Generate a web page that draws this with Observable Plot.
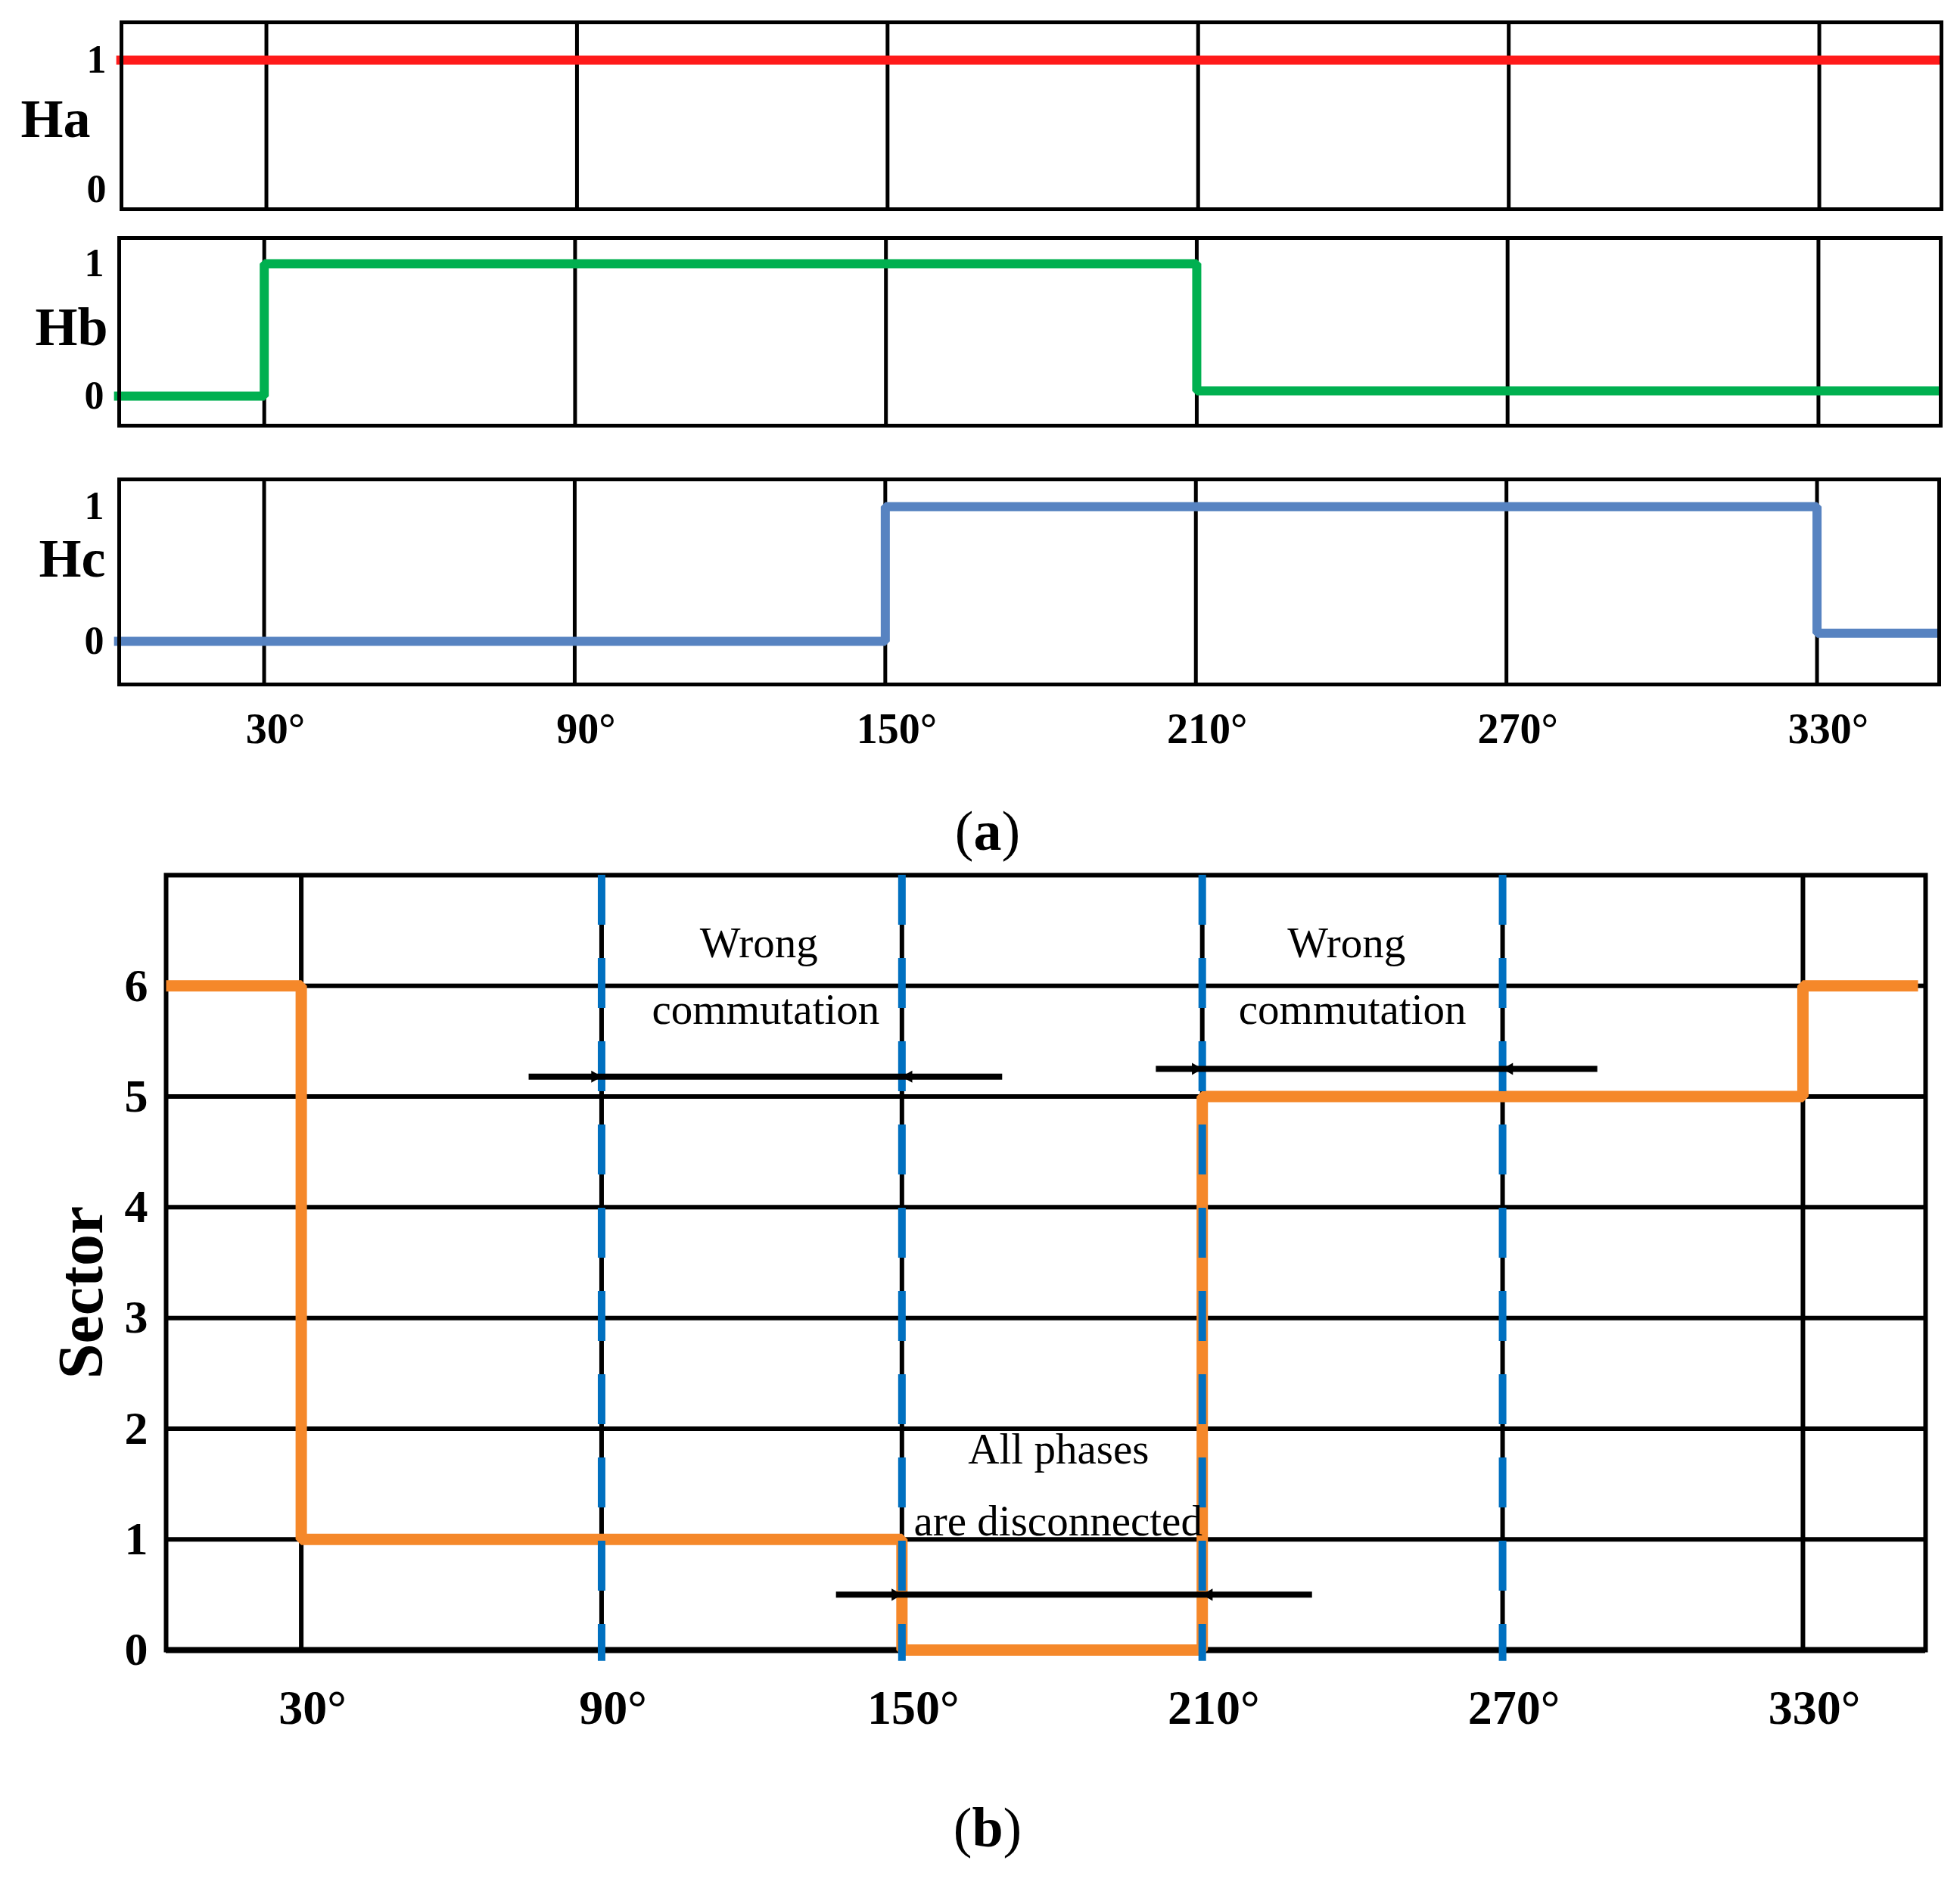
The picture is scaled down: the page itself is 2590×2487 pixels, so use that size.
<!DOCTYPE html>
<html>
<head>
<meta charset="utf-8">
<script src="https://cdn.jsdelivr.net/npm/d3@7"></script>
<script src="https://cdn.jsdelivr.net/npm/@observablehq/plot@0.6"></script>
<style>
  html, body { margin: 0; padding: 0; background: #fff; }
  #fig { position: relative; width: 2590px; height: 2487px; font-family: "Liberation Serif", serif; overflow: hidden; }
  .panel { position: absolute; left: 0; }
  .panel svg { overflow: visible; }
  .cap { position: absolute; transform: translate(-50%, -50%); font-size: 74px; line-height: 1; color: #000; white-space: nowrap; }
</style>
</head>
<body>
<div id="fig"></div>
<script>
// ---------- data ----------
const angleTicks = [30, 90, 150, 210, 270, 330];          // degrees (grid + tick labels)
const signalNames = ["Ha", "Hb", "Hc"];
const haAngle = [1, 353.5];
const haValue = [1, 1];
const hbAngle = [1, 30, 210, 353.5];
const hbValue = [0, 1, 0.04, 0.04];
const hcAngle = [1, 150, 330, 353.5];
const hcValue = [0, 1, 0.06, 0.06];
const signalTicks = [0, 1];

const sectorTicks = [0, 1, 2, 3, 4, 5, 6];
const sectorAngle = [3, 30, 150, 210, 330, 353];
const sectorValue = [6, 1, 0, 5, 6, 6];

const boundaryAngles = [90, 150, 210, 270];                // dashed boundaries
const arrowFrom = [90, 210, 150];
const arrowTo = [150, 270, 210];
const arrowStart = [75.5, 200.8, 136.9];
const arrowEnd = [170.1, 289, 232];
const arrowLevel = [5.18, 5.25, 0.5];

const noteText = ["Wrong", "commutation", "Wrong", "commutation", "All phases", "are disconnected"];
const noteAngle = [121.4, 122.8, 238.8, 240, 181.3, 181.2];
const noteLevel = [6.38, 5.78, 6.38, 5.78, 1.81, 1.16];

const sectorTitle = "Sector";

// ---------- helpers ----------
const FONT = "Liberation Serif, serif";
const fig = document.getElementById("fig");
function place(svg, top) {
  const d = document.createElement("div");
  d.className = "panel";
  d.style.top = top + "px";
  d.appendChild(svg);
  fig.appendChild(d);
}
const zip = (xs, ys) => xs.map((x, i) => ({x, y: ys[i]}));
const intFmt = d => `${d}`;
const degFmt = d => `${d}°`;

function signalPanel(cfg) {
  const marks = [
    Plot.ruleX(angleTicks, {stroke: "black", strokeWidth: 5}),
    Plot.line(zip(cfg.angle, cfg.value), {x: "x", y: "y", curve: "step-after", stroke: cfg.color, strokeWidth: 12, strokeLinejoin: "miter", strokeLinecap: "butt"}),
    Plot.frame({stroke: "black", strokeWidth: 5}),
    Plot.axisY({ticks: signalTicks, tickFormat: intFmt, tickSize: 0, tickPadding: 20, fontSize: 52, fontWeight: "bold", label: null}),
    Plot.text([cfg.name], {text: d => d, frameAnchor: "left", y: cfg.labelY, dx: cfg.labelDx, textAnchor: "end", fontSize: 72, fontWeight: "bold"})
  ];
  if (cfg.showX) {
    marks.push(Plot.axisX({ticks: angleTicks, tickFormat: degFmt, tickSize: 0, tickPadding: 38, fontSize: 56, fontWeight: "bold", dx: 15, label: null}));
  }
  return Plot.plot({
    width: 2590,
    height: cfg.height,
    marginTop: cfg.marginTop,
    marginBottom: cfg.marginBottom,
    marginLeft: cfg.marginLeft,
    marginRight: cfg.marginRight,
    style: {fontFamily: FONT, background: "transparent", overflow: "visible", color: "black"},
    x: cfg.showX ? {domain: [2, 353.6]} : {domain: [2, 353.6], axis: null},
    y: {domain: cfg.yDomain},
    marks
  });
}

// ---------- panel (a) ----------
place(signalPanel({name: signalNames[0], angle: haAngle, value: haValue, color: "#FF1A1A",
  height: 290, marginTop: 29, marginBottom: 14, marginLeft: 160, marginRight: 25,
  yDomain: [-0.152, 1.292], labelY: 0.54, labelDx: -41}), 0);
place(signalPanel({name: signalNames[1], angle: hbAngle, value: hbValue, color: "#00B050",
  height: 290, marginTop: 24, marginBottom: 18, marginLeft: 157, marginRight: 26,
  yDomain: [-0.223, 1.194], labelY: 0.52, labelDx: -15}), 290);
place(signalPanel({name: signalNames[2], angle: hcAngle, value: hcValue, color: "#5783C1",
  height: 424, marginTop: 53, marginBottom: 100, marginLeft: 157, marginRight: 28,
  yDomain: [-0.32, 1.202], labelY: 0.61, labelDx: -18, showX: true}), 580);

// ---------- panel (b) ----------
const arrows = arrowFrom.map((f, i) => ({from: f, to: arrowTo[i], start: arrowStart[i], end: arrowEnd[i], level: arrowLevel[i]}));
const notes = noteText.map((t, i) => ({t, x: noteAngle[i], y: noteLevel[i]}));

const sectorPlot = Plot.plot({
  width: 2590,
  height: 1190,
  marginTop: 46,
  marginBottom: 120,
  marginLeft: 219,
  marginRight: 46,
  style: {fontFamily: FONT, background: "transparent", overflow: "visible", color: "black"},
  x: {domain: [3, 354.5]},
  y: {domain: [0, 7]},
  marks: [
    Plot.ruleY(sectorTicks.filter(v => v > 0), {stroke: "black", strokeWidth: 6}),
    Plot.ruleX(angleTicks, {stroke: "black", strokeWidth: 6}),
    Plot.frame({stroke: "black", strokeWidth: 6}),
    Plot.ruleY([0], {stroke: "black", strokeWidth: 8}),
    Plot.line(zip(sectorAngle, sectorValue), {x: "x", y: "y", curve: "step-after", stroke: "#F5882A", strokeWidth: 15, strokeLinejoin: "miter", strokeLinecap: "butt"}),
    Plot.ruleX(boundaryAngles, {y1: 7, y2: -0.1, stroke: "#0070C0", strokeWidth: 10, strokeDasharray: "66 44"}),
    Plot.ruleY(arrows, {y: "level", x1: "start", x2: "end", stroke: "black", strokeWidth: 8}),
    Plot.dot(arrows, {x: "from", y: "level", symbol: "triangle", r: 6, fill: "black", stroke: "none", rotate: 90, dx: -9}),
    Plot.dot(arrows, {x: "to", y: "level", symbol: "triangle", r: 6, fill: "black", stroke: "none", rotate: -90, dx: 9}),
    Plot.text(notes, {x: "x", y: "y", text: "t", fontSize: 57, fill: "black"}),
    Plot.axisY({ticks: sectorTicks, tickFormat: intFmt, tickSize: 0, tickPadding: 24, fontSize: 62, fontWeight: "bold", label: null}),
    Plot.axisX({ticks: angleTicks, tickFormat: degFmt, tickSize: 0, tickPadding: 52, fontSize: 64, fontWeight: "bold", dx: 15, label: null}),
    // y-axis title, placed left of the tick labels (x expressed in the angle domain)
    Plot.text([sectorTitle], {text: d => d, x: -13.9, y: 3.23, rotate: -90, fontSize: 84, fontWeight: "bold"})
  ]
});
place(sectorPlot, 1110);

// ---------- captions ----------
function caption(letter, x, y) {
  const d = document.createElement("div");
  d.className = "cap";
  d.style.left = x + "px";
  d.style.top = y + "px";
  d.innerHTML = `(<b>${letter}</b>)`;
  fig.appendChild(d);
}
caption("a", 1305, 1098);
caption("b", 1305, 2415);
</script>
</body>
</html>
